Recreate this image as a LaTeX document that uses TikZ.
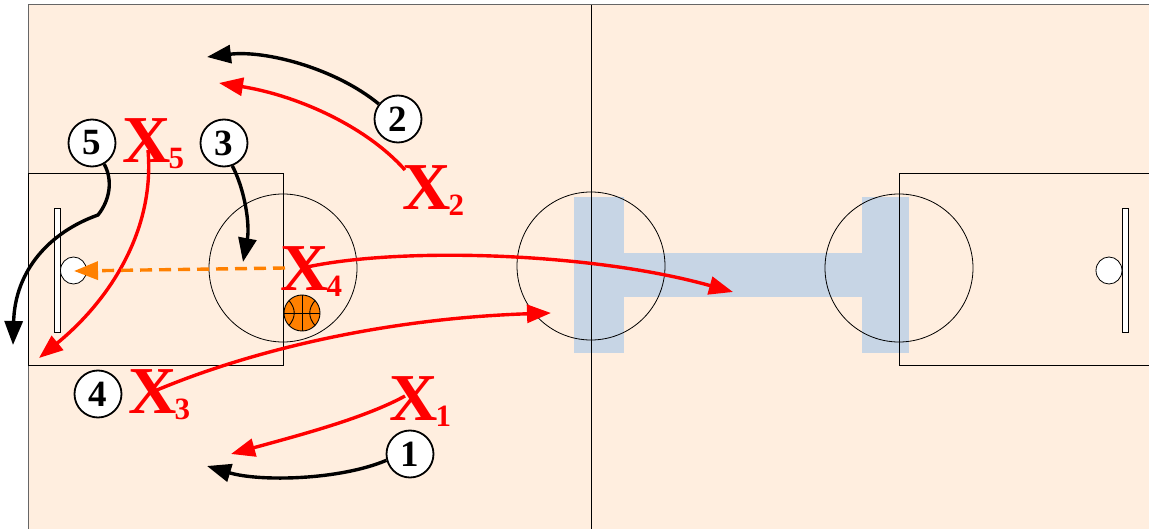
\documentclass[tikz,border=0pt]{standalone}
\usepackage{fontspec}
\setmainfont{Liberation Serif}
\usetikzlibrary{arrows.meta}
\definecolor{courtbg}{HTML}{FFEEDF}
\definecolor{lanebg}{HTML}{C7D5E5}
\definecolor{passor}{HTML}{FF8000}
\newcommand{\xlabel}[1]{X\kern-2pt\raisebox{-6pt}{\fontsize{31}{31}\selectfont #1}}
\tikzset{
  courtline/.style={draw=black,line width=0.8pt},
  player/.style={circle,draw=black,fill=white,line width=1.8pt,minimum size=47pt,inner sep=0pt,font=\fontsize{37}{37}\selectfont\bfseries},
  defender/.style={anchor=base west,inner sep=0pt,text=red,font=\fontsize{67}{67}\selectfont\bfseries},
  cut/.style={line width=3.4pt,-{Triangle[length=24pt,width=18pt]}},
  blackcut/.style={cut,draw=black},
  redcut/.style={cut,draw=red},
  passline/.style={line width=3.4pt,draw=passor,dash pattern=on 12pt off 7pt,-{Triangle[length=24pt,width=18pt]}},
}
\begin{document}
\begin{tikzpicture}[x=1pt,y=-1pt]
\useasboundingbox (0,0) rectangle (1149,529);
\clip (0,0) rectangle (1149,529);
% court
\fill[courtbg] (28.5,5) rectangle (1160,540);
\draw[draw=black!60,line width=1pt] (28.5,540) -- (28.5,5) -- (1160,5);
% lane
\fill[lanebg] (574,197) rectangle (624,353);
\fill[lanebg] (862,197) rectangle (909,353);
\fill[lanebg] (624,253) rectangle (862,297);
% lines
\draw[courtline] (591.5,5) -- (591.5,540);
\draw[courtline] (28,173) rectangle (283,365);
\draw[courtline] (1160,173) -- (899,173) -- (899,365) -- (1160,365);
\draw[courtline] (283,268) ellipse [x radius=74,y radius=74];
\draw[courtline] (591,266) ellipse [x radius=74,y radius=74];
\draw[courtline] (899,268) ellipse [x radius=74,y radius=74];
% baskets
\draw[courtline,fill=white] (54.5,208) rectangle (60,332);
\draw[courtline,fill=white] (1122.5,208) rectangle (1128,332);
\draw[courtline,fill=white] (73.5,270.5) ellipse [x radius=13,y radius=13.5];
\draw[courtline,fill=white] (1109,270.5) ellipse [x radius=13,y radius=13.5];
% ball
\fill[passor] (302,313) circle [radius=18];
\draw[line width=0.9pt] (302,313) circle [radius=18];
\draw[line width=0.9pt] (302,295) -- (302,331) (284,313) -- (320,313);
\draw[line width=0.9pt] (289,300.5) .. controls (296,309) and (296,317) .. (289,325.5);
\draw[line width=0.9pt] (315,300.5) .. controls (308,309) and (308,317) .. (315,325.5);
% players
\node[player] (p1) at (410,454) {1};
\node[player] (p2) at (398,119) {2};
\node[player] (p3) at (224,143) {3};
\node[player] (p4) at (98,394) {4};
\node[player] (p5) at (92,143) {5};
% defenders
\node[defender] (x1) at (389,420) {\xlabel{1}};
\node[defender] (x2) at (402,210) {\xlabel{2}};
\node[defender] (x3) at (128,413) {\xlabel{3}};
\node[defender] (x4) at (280,291) {\xlabel{4}};
\node[defender] (x5) at (122,163) {\xlabel{5}};
% targets
\coordinate (t1k) at (207,466);
\coordinate (t1r) at (231,454);
\coordinate (t2k) at (207,57);
\coordinate (t2r) at (219,83);
\coordinate (t3k) at (243,262);
\coordinate (t3r) at (551,313);
\coordinate (t4r) at (733,292);
\coordinate (t5k) at (13,345);
\coordinate (t5r) at (39,358);
\coordinate (tball) at (74,271);
\coordinate (s1r) at (405,396);
\coordinate (s2r) at (405,170);
\coordinate (s3r) at (157,390);
\coordinate (s4r) at (307,267);
\coordinate (s4p) at (285,268);
\coordinate (s5r) at (148,150);
\coordinate (k5) at (98,215);
% cuts
\draw[blackcut] (p1.195) .. controls (340,480) and (260,482) .. (t1k);
\draw[blackcut] (p2.142) .. controls (335,68) and (265,50) .. (t2k);
\draw[blackcut] (p3.-70) .. controls (245,190) and (250,225) .. (t3k);
\draw[blackcut] (p5.-60) .. controls (113,180) and (110,200) .. (k5) .. controls (50,232) and (15,270) .. (t5k);
\draw[redcut] (s1r) .. controls (365,418) and (300,435) .. (t1r);
\draw[redcut] (s2r) .. controls (365,125) and (295,95) .. (t2r);
\draw[redcut] (s3r) .. controls (265,345) and (400,318) .. (t3r);
\draw[redcut] (s4r) .. controls (400,247) and (590,252) .. (t4r);
\draw[redcut] (s5r) .. controls (155,230) and (110,300) .. (t5r);
\draw[passline] (s4p) -- (tball);
\end{tikzpicture}
\end{document}
